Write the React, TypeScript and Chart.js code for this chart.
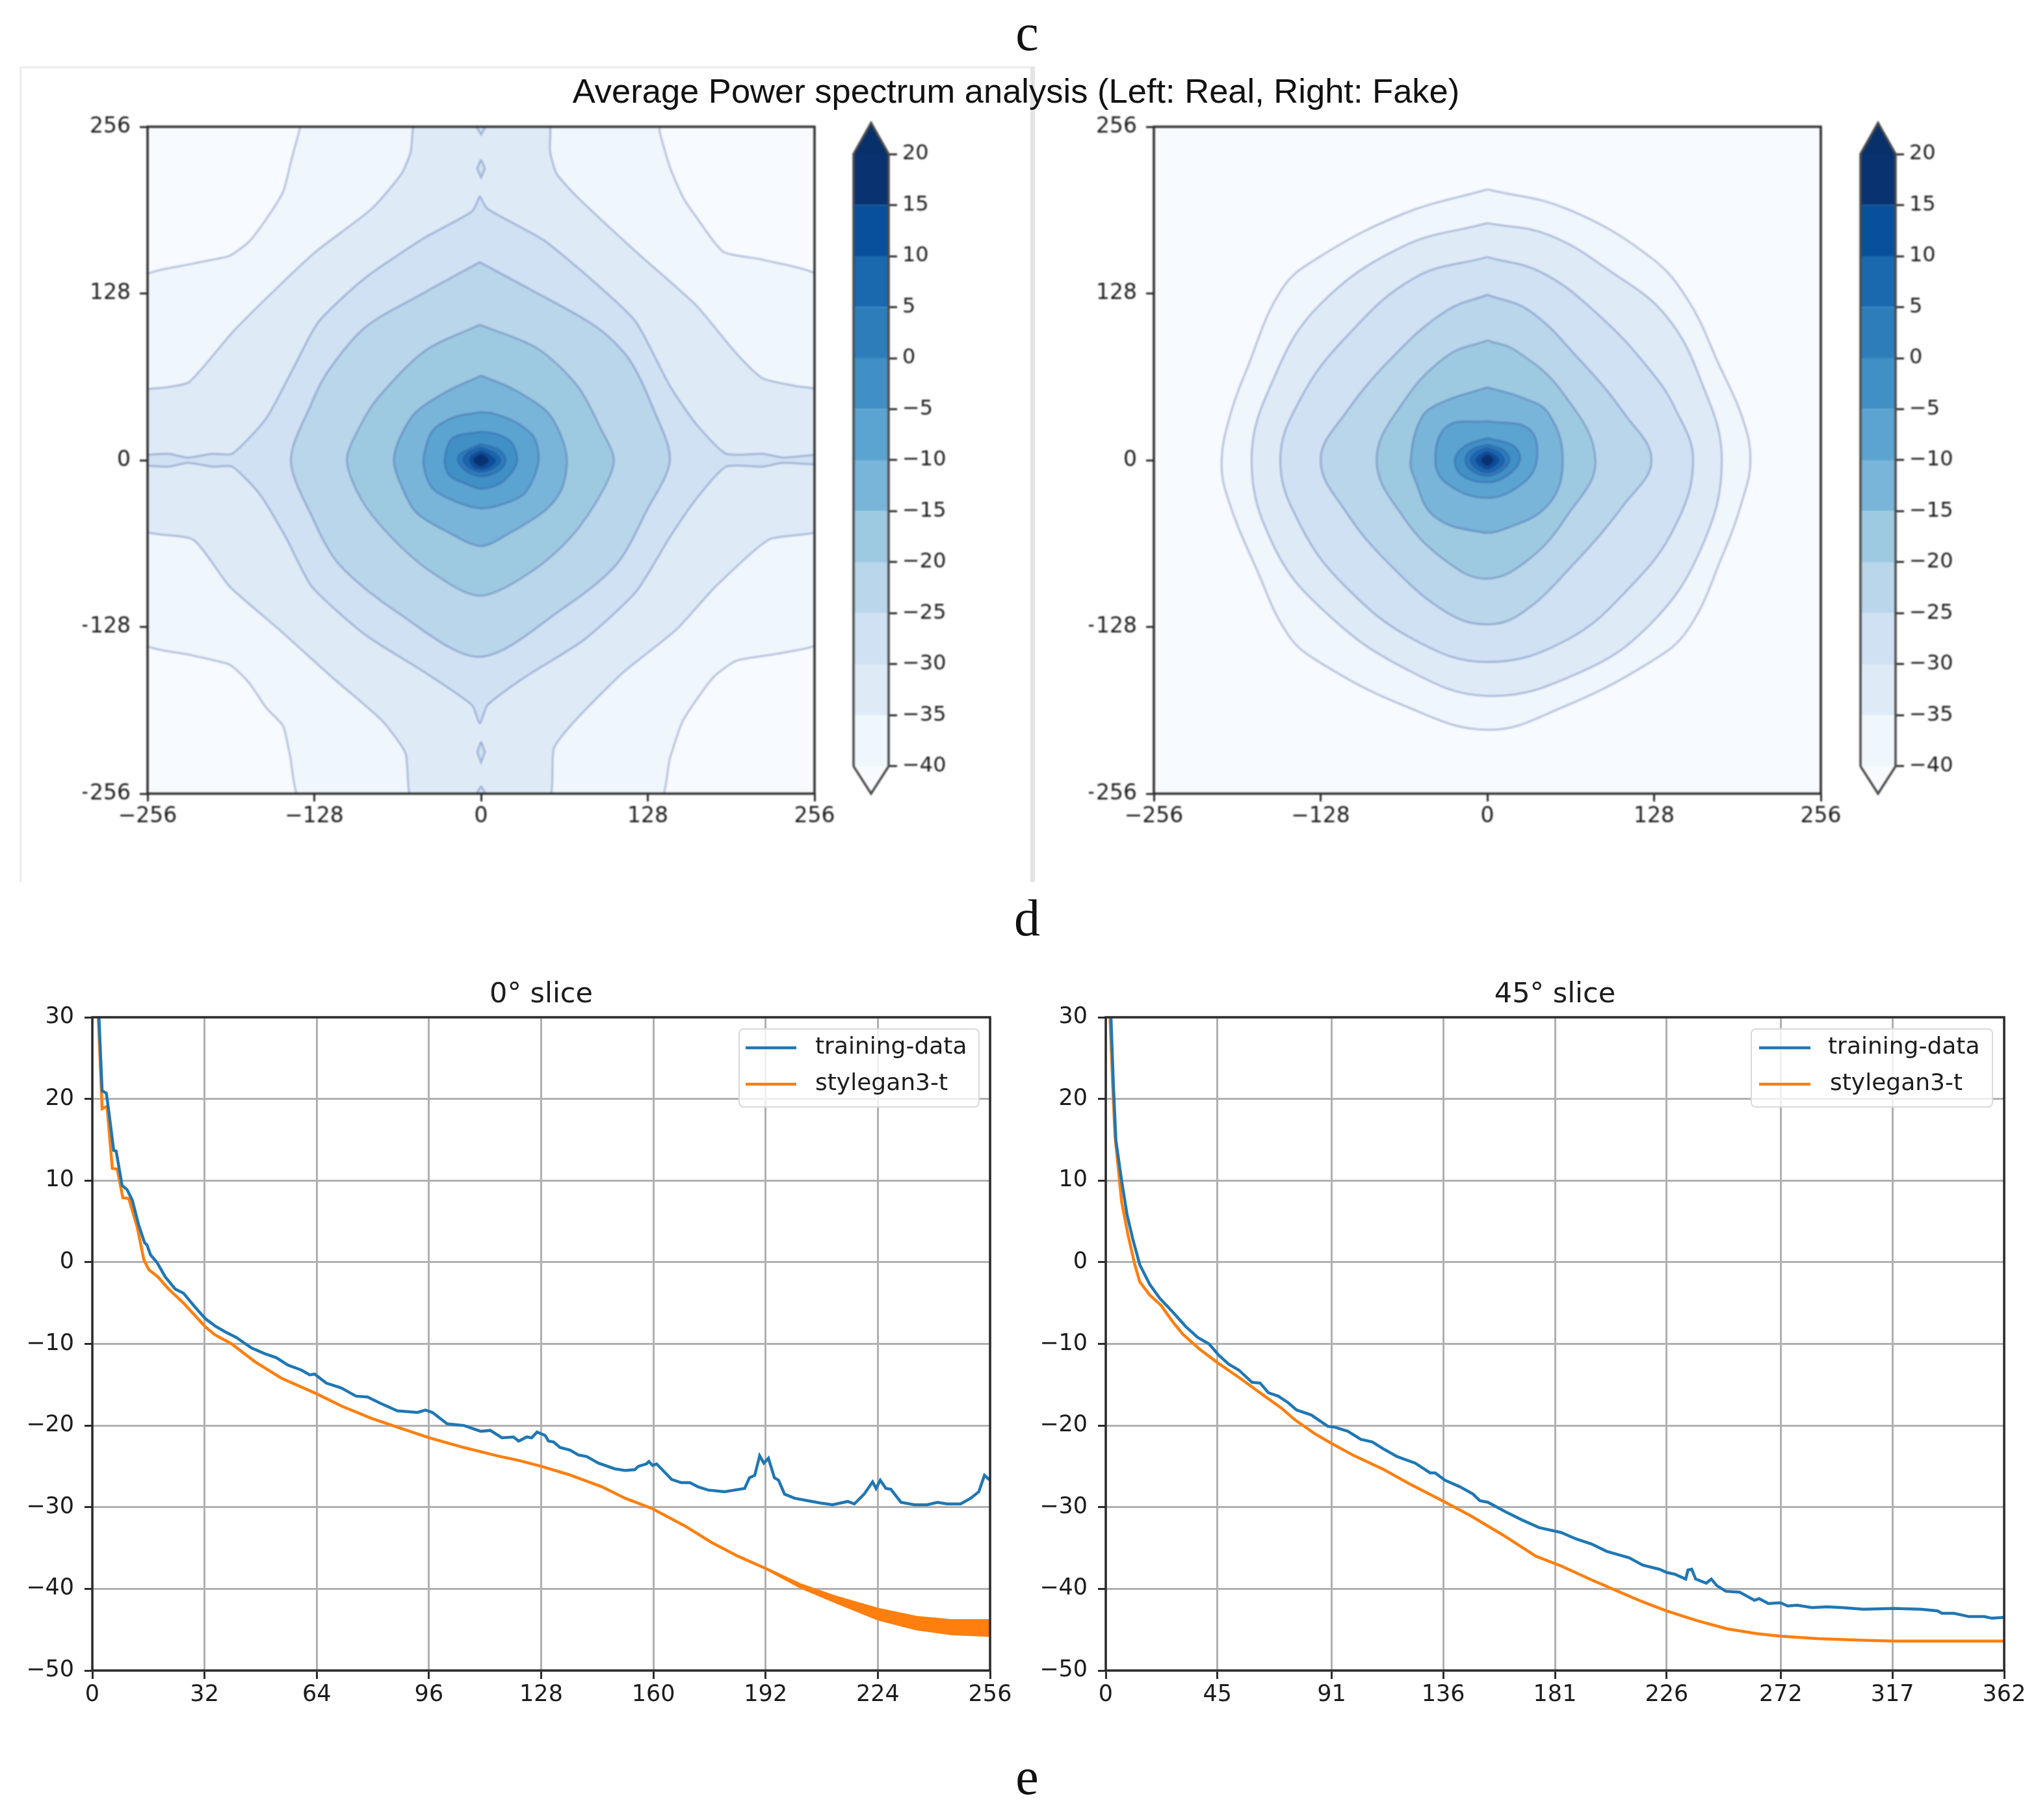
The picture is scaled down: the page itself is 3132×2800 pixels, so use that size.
import React, { useEffect, useRef } from "react";
import { Chart, registerables } from "chart.js";

Chart.register(...registerables);

type P = number[];

// ---------- contour outlines of the real average spectrum, outer level first ----------
const realM40: P[] = [
  [-137, 262], [137, 262], [137, 253], [145, 225], [155, 202], [165, 187], [186, 160], [216, 154], [262, 138],
  [262, -138], [231, -148], [196, -154], [178, -167], [155, -200], [145, -229], [136, -262],
  [-137, -262], [-147, -225], [-152, -204], [-165, -190], [-178, -171], [-193, -157], [-221, -150], [-262, -138],
  [-262, 138], [-221, 151], [-193, 157], [-178, 168], [-165, 185], [-152, 206], [-145, 233], [-137, 262],
];
const realM35: P[] = [
  [-52, 262], [51, 262], [53, 237], [58, 220], [74, 202], [119, 160], [165, 119], [196, 82], [216, 63], [241, 57], [262, 52],
  [262, -52], [221, -61], [180, -97], [150, -130], [109, -163], [74, -198], [56, -221], [51, -262],
  [-52, -262], [-58, -225], [-76, -200], [-114, -167], [-155, -130], [-193, -97], [-221, -61], [-262, -52],
  [-262, 52], [-241, 56], [-224, 60], [-191, 98], [-158, 131], [-127, 160], [-84, 193], [-61, 220], [-54, 237], [-52, 262],
];
const realM30: P[] = [
  [-1, 203], [-7, 191], [-43, 171], [-89, 140], [-125, 106], [-145, 69], [-165, 32], [-191, 5], [-206, 5], [-225, 2], [-240, 5],
  [-262, 3], [-262, -3], [-240, -5], [-225, -2], [-206, -5], [-191, -5], [-170, -26], [-150, -59], [-130, -97], [-89, -134], [-43, -163],
  [-7, -188], [-1, -202], [5, -188], [33, -167], [79, -138], [119, -101], [145, -59], [165, -30], [188, -5], [216, -5], [232, -2],
  [262, -3], [262, 4], [232, 2], [216, 5], [188, 5], [165, 28], [145, 57], [119, 106], [89, 135], [48, 169], [5, 193], [-1, 203],
];
const realDashUpper: P[] = [[0, 231], [3, 224], [0, 217], [-3, 224], [0, 231]];
const realDashTop: P[] = [[0, 261], [3, 255], [0, 250], [-3, 255], [0, 261]];
const realDashLower: P[] = [[0, -216], [3, -224], [0, -232], [-3, -224], [0, -216]];
const realDashBottom: P[] = [[0, -250], [3, -255], [0, -261], [-3, -255], [0, -250]];
const realM25: P[] = [
  [-1, 152], [-43, 129], [-89, 102], [-117, 69], [-130, 44], [-146, 0], [-130, -43], [-109, -80], [-64, -117], [-1, -151],
  [64, -113], [104, -80], [127, -39], [145, 0], [132, 40], [114, 77], [89, 102], [38, 131], [-1, 152],
];
const realM20: P[] = [
  [-1, 104], [-43, 84], [-79, 48], [-94, 24], [-103, 0], [-92, -30], [-69, -59], [-38, -86], [-1, -104],
  [38, -86], [69, -59], [92, -26], [102, 0], [92, 24], [74, 57], [43, 86], [-1, 104],
];
const realM15: P[] = [
  [0, 65], [-26, 53], [-50, 37], [-62, 18], [-67, 0], [-62, -18], [-50, -40], [-26, -55], [0, -66],
  [22, -56], [50, -38], [62, -22], [66, 0], [61, 20], [50, 38], [24, 55], [0, 65],
];
const realM10: P[] = [
  [0, 37], [-21, 33], [-37, 23], [-43, 8], [-44, -5], [-37, -22], [-19, -32], [0, -37],
  [19, -33], [34, -25], [44, -2], [41, 17], [27, 29], [9, 36], [0, 37],
];
const realM5: P[] = [
  [0, 22], [-22, 17], [-28, 0], [-24, -12], [-12, -18], [0, -22], [16, -17], [27.5, -2], [24, 13], [12.5, 20], [0, 22],
];
const real0: P[] = [[0, 12.5], [-16, 5], [-18, 0], [-12, -8], [0, -12.5], [14, -8], [19, 0], [14, 8], [0, 12.5]];
const real5: P[] = [[0, 10], [-10, 6], [-14, 0], [-9, -6], [0, -9], [10, -6], [15, 0], [10, 6], [0, 10]];
const real10: P[] = [[0, 7.5], [-7, 4], [-9, 0], [-6, -5], [0, -7], [7, -5], [11, 0], [7, 4], [0, 7.5]];
const real15: P[] = [[0, 5], [-4, 3], [-6, 0], [-4, -3], [0, -5], [4, -3], [6, 0], [4, 3], [0, 5]];

// ---------- contour outlines of the fake average spectrum, outer level first ----------
const fakeM40: P[] = [
  [0, 208], [61, 193], [125, 156], [154, 123], [178, 73], [196, 32], [202, 0], [196, -30], [181, -72], [154, -130], [125, -155],
  [57, -190], [0, -207], [-65, -188], [-129, -155], [-153, -134], [-177, -84], [-199, -30], [-204, 0], [-197, 36], [-185, 69],
  [-158, 131], [-129, 156], [-65, 189], [0, 208],
];
const fakeM35: P[] = [
  [0, 182], [47, 173], [96, 144], [137, 111], [164, 61], [180, 0], [164, -68], [125, -126], [71, -163], [0, -181],
  [-65, -159], [-124, -117], [-163, -68], [-181, 0], [-163, 65], [-129, 119], [-65, 164], [0, 182],
];
const fakeM30: P[] = [
  [0, 156], [42, 144], [86, 111], [125, 69], [144, 40], [158, 0], [144, -51], [110, -97], [61, -138], [0, -155],
  [-56, -138], [-109, -97], [-143, -51], [-159, 0], [-143, 48], [-109, 94], [-56, 140], [0, 156],
];
const fakeM25: P[] = [
  [0, 127], [32, 115], [71, 77], [105, 36], [126, 0], [105, -34], [66, -80], [27, -117], [0, -126], [-31, -117],
  [-75, -80], [-109, -39], [-128, 0], [-109, 36], [-70, 82], [-31, 115], [0, 127],
];
const fakeM20: P[] = [
  [0, 92], [22, 84], [57, 53], [83, 0], [61, -43], [32, -76], [0, -91], [-31, -78], [-65, -43], [-85, 0], [-65, 44], [-31, 80], [0, 92],
];
const fakeM15: P[] = [
  [0, 56], [27, 48], [47, 36], [58, 0], [47, -34], [13, -53], [-7, -55], [-41, -43], [-56, -14], [-59, 0], [-51, 32], [-36, 44], [0, 56],
];
const fakeM10: P[] = [[0, 30], [32, 24], [38, 0], [27, -18], [0, -29], [-31, -18], [-40, 0], [-31, 26], [0, 30]];
const fakeM5: P[] = [[0, 17], [20, 11], [25, 0], [15, -12], [0, -17], [-19, -12], [-25, 0], [-17, 11], [0, 17]];
const fake0: P[] = [[0, 12], [12, 8], [17, 0], [11, -8], [0, -12], [-12, -8], [-17, 0], [-12, 8], [0, 12]];
const fake5: P[] = [[0, 9.5], [9, 6], [13, 0], [9, -6], [0, -9.5], [-9, -6], [-13, 0], [-9, 6], [0, 9.5]];
const fake10: P[] = [[0, 7], [6, 4], [9, 0], [6, -4], [0, -7], [-6, -4], [-9, 0], [-6, 4], [0, 7]];
const fake15: P[] = [[0, 4.5], [3, 3], [5, 0], [3, -3], [0, -4.5], [-3, -3], [-5, 0], [-3, 3], [0, 4.5]];

// ---------- colour bar ----------
const colorbarLevels = [-40, -35, -30, -25, -20, -15, -10, -5, 0, 5, 10, 15, 20];
const colorbarTopArrow: P[] = [[-1, 20], [0, 23.06], [1, 20], [-1, 20]];
const colorbarBottomArrow: P[] = [[-1, -40], [0, -42.68], [1, -40], [-1, -40]];
const colorbarOutline: P[] = [[-1, -40], [0, -42.68], [1, -40], [1, 20], [0, 23.06], [-1, 20], [-1, -40]];

// ---------- slices ----------
const slice0Real: P[] = [
  [1.9, 30], [2.8, 21], [4, 20.7], [4.7, 18.5], [6.1, 13.7], [6.8, 13.6], [8.5, 9.4], [9.9, 8.9], [11.4, 7.6], [13.2, 4.6],
  [14.9, 2.4], [15.6, 2.1], [16.6, 0.9], [18.4, 0], [20.8, -1.8], [23.7, -3.3], [26, -3.8], [29.3, -5.5], [32.2, -6.9], [35, -7.8],
  [37.8, -8.5], [41, -9.2], [45.4, -10.5], [49.2, -11.2], [52.5, -11.7], [55.8, -12.6], [59.6, -13.2], [62, -13.8], [63.4, -13.7],
  [66.7, -14.8], [71, -15.4], [75.2, -16.4], [78.5, -16.5], [82.3, -17.3], [87, -18.2], [92.7, -18.4], [95, -18.1], [97, -18.4],
  [101.2, -19.8], [106, -20], [110.7, -20.7], [113.5, -20.6], [116.8, -21.5], [120.1, -21.4], [121.6, -21.9], [123.9, -21.4],
  [125.3, -21.5], [126.8, -20.8], [129.1, -21.2], [130.1, -21.9], [131.5, -22], [133.4, -22.7], [136.2, -23], [138.6, -23.6],
  [141, -23.8], [144.3, -24.6], [149, -25.3], [151.9, -25.5], [154.7, -25.4], [155.7, -25], [158, -24.7], [158.7, -24.4], [159.8, -24.9],
  [160.9, -24.7], [162.3, -25.3], [165.2, -26.6], [168, -27], [170.4, -27], [172.7, -27.5], [175.6, -27.9], [180.3, -28.1], [184.6, -27.8],
  [186, -27.7], [187.4, -26.4], [188.9, -26.1], [190.3, -23.7], [191.5, -24.6], [192.8, -24], [194.5, -26.4], [195.7, -26.7], [197.4, -28.4],
  [200.2, -28.9], [204, -29.2], [207.8, -29.5], [211.1, -29.7], [215.4, -29.3], [217.3, -29.6], [220.1, -28.4], [222.5, -26.9], [223.5, -27.7],
  [224.7, -26.7], [226.3, -27.7], [227.7, -27.8], [230.6, -29.4], [234.4, -29.7], [238.1, -29.7], [241, -29.4], [243.8, -29.6], [247.6, -29.6],
  [250.5, -28.9], [252.8, -28.1], [254.4, -26.1], [256, -26.7],
];
const slice0Fake: P[] = [
  [1.7, 30], [2.8, 18.8], [4.2, 19.1], [5.7, 11.5], [7.1, 11.4], [8.7, 7.9], [10.4, 7.8], [12.8, 4.3], [14.7, 0.3], [16.1, -0.9], [18.7, -1.8],
  [21.8, -3.3], [26, -5], [32.2, -7.9], [35, -8.9], [39.7, -10], [46.4, -12.2], [53.9, -14.2], [63.9, -16.1], [71, -17.6], [79.5, -19.1],
  [87, -20.2], [96, -21.5], [106, -22.7], [115.4, -23.7], [121.8, -24.3], [128, -25], [135.8, -26], [145.3, -27.5], [151.9, -28.9],
  [159.8, -30.2], [169, -32.3], [176.5, -34.3], [184.1, -36], [192, -37.5],
];
const slice0FakeBandX = [192, 202, 212, 224, 235, 245, 256];
const slice0FakeBandUpper = [-37.4, -39.4, -40.9, -42.4, -43.4, -43.8, -43.8];
const slice0FakeBandLower = [-37.6, -39.9, -41.7, -43.8, -45, -45.6, -45.8];
const slice45Real: P[] = [
  [2.1, 30], [3.1, 21.6], [4.1, 14.9], [6.4, 10], [8.6, 5.8], [11, 2.7], [13.7, -0.3], [17.7, -2.7], [21.7, -4.4], [27, -6.1], [32.3, -7.9],
  [37, -9.2], [41.6, -10], [45.6, -11.4], [49.6, -12.5], [53.6, -13.2], [58.9, -14.7], [62.2, -14.8], [65.6, -16], [69.5, -16.4], [73.5, -17.2],
  [76.9, -18.1], [82.8, -18.7], [89.5, -20.1], [92.2, -20.2], [97.5, -20.7], [102.8, -21.7], [107.4, -22], [112.1, -22.9], [117.4, -23.8],
  [124.7, -24.6], [130.7, -25.8], [132.7, -25.8], [136.7, -26.7], [142.7, -27.5], [148, -28.4], [150.7, -29.2], [154, -29.4], [161.3, -30.6],
  [168, -31.6], [174.6, -32.5], [183.5, -33.1], [189.6, -33.9], [195.7, -34.5], [201.8, -35.4], [210.9, -36.2], [216.4, -37.1], [223.1, -37.6],
  [226.1, -38], [229.2, -38.2], [233.7, -38.8], [234.6, -37.7], [236.1, -37.6], [237.7, -38.8], [242, -39.3], [244, -38.8], [246.2, -39.6],
  [249.9, -40.3], [255.4, -40.4], [261.4, -41.4], [263.3, -41.2], [267, -41.8], [271.8, -41.7], [274.8, -42.1], [278.5, -42], [284.6, -42.3],
  [290.7, -42.2], [296.8, -42.3], [305.3, -42.5], [317.5, -42.4], [328.4, -42.5], [335.1, -42.7], [337, -43], [341.8, -43], [347.9, -43.4],
  [354, -43.4], [357.1, -43.6], [362, -43.5],
];
const slice45Fake: P[] = [
  [1.7, 30], [2.8, 21.6], [3.7, 15.5], [6.4, 7.4], [9, 3.3], [11.7, -0.3], [13.7, -2.4], [17.7, -4], [22.3, -5.3], [27, -7.3], [31, -8.8],
  [37.6, -10.6], [45, -12.3], [53.6, -14.1], [62.2, -16], [70.9, -17.9], [76.2, -19.3], [84.2, -21], [91, -22.2], [100.1, -23.7], [112.1, -25.4],
  [122.7, -27.2], [135.6, -29.2], [146.7, -31], [160, -33.4], [173.3, -36], [183.5, -37.2], [195.7, -38.9], [207.9, -40.5], [216.4, -41.6], [226, -42.7],
  [238.3, -43.9], [250.5, -44.9], [262.7, -45.5], [272, -45.8], [287, -46.1], [305.3, -46.3], [317.5, -46.4], [362, -46.4],
];

const contourTicks = [-256, -128, 0, 128, 256];
const slice0XTicks = [0, 32, 64, 96, 128, 160, 192, 224, 256];
const slice45XTicks = [0, 45, 91, 136, 181, 226, 272, 317, 362];
const sliceYTicks = [-50, -40, -30, -20, -10, 0, 10, 20, 30];
const seriesNames = ["training-data", "stylegan3-t"];

// ---------- styling ----------
const BLUES = ["#eff6fc", "#deebf7", "#cfe1f2", "#b9d6ea", "#9ecae1", "#79b4d9", "#5ba3d0", "#4090c5", "#2d7dbb", "#1a68ae", "#08509b", "#083370"];
const UNDER = "#f7fbff";
const OVER = "#08306b";
const INK = "#1c1c1c";
const FONT = "'DejaVu Sans'";

type Box = { left: number; top: number; right: number; bottom: number };
const M = { l: 130, r: 70, t: 40, b: 70 };
const AXIS_W = 100;
const AXIS_H = 60;
const EXTRA_R = 60;

const pts = (a: P[]) => a.map(([x, y]) => ({ x, y }));
const minusTick = (v: number | string) => String(v).replace("-", "\u2212");

const framePlugin = {
  id: "frame",
  afterDatasetsDraw(chart: any, _a: any, o: any) {
    if (!o.show) return;
    const { ctx, chartArea: c } = chart;
    ctx.save();
    ctx.strokeStyle = "#2b2b2b";
    ctx.lineWidth = o.width || 3.5;
    ctx.strokeRect(c.left, c.top, c.right - c.left, c.bottom - c.top);
    ctx.restore();
  },
  beforeDatasetsDraw(chart: any, _a: any, o: any) {
    if (!o.bg) return;
    const { ctx, chartArea: c } = chart;
    ctx.save();
    ctx.fillStyle = o.bg;
    ctx.fillRect(c.left, c.top, c.right - c.left, c.bottom - c.top);
    ctx.restore();
  },
};

const legendPlugin = {
  id: "insetLegend",
  afterDraw(chart: any, _a: any, o: any) {
    if (!o.box) return;
    const { ctx, canvas } = chart;
    const cx = parseFloat(canvas.style.left);
    const cy = parseFloat(canvas.style.top);
    const b = o.box;
    ctx.save();
    ctx.beginPath();
    ctx.roundRect(b.left - cx, b.top - cy, b.right - b.left, b.bottom - b.top, 7);
    ctx.fillStyle = "rgba(255,255,255,0.8)";
    ctx.fill();
    ctx.strokeStyle = "#d9d9d9";
    ctx.lineWidth = 2;
    ctx.stroke();
    ctx.font = `${o.size}px ${FONT}`;
    ctx.textBaseline = "middle";
    o.rows.forEach((r: any) => {
      ctx.strokeStyle = r.color;
      ctx.lineWidth = 4.5;
      ctx.beginPath();
      ctx.moveTo(o.x0 - cx, r.y - cy);
      ctx.lineTo(o.x1 - cx, r.y - cy);
      ctx.stroke();
      ctx.fillStyle = INK;
      ctx.fillText(r.label, r.tx - cx, r.y - cy);
    });
    ctx.restore();
  },
};

function axisGrid(grid: boolean, tickLen: number) {
  return { display: true, drawOnChartArea: grid, color: "#b0b0b0", lineWidth: 3, tickColor: "#2b2b2b", tickWidth: 3, tickLength: tickLen, drawTicks: true };
}
function fixedX(ticks: number[], min: number, max: number, size: number, tickLen: number, grid: boolean, pad: number) {
  return {
    type: "linear",
    min,
    max,
    afterBuildTicks: (s: any) => { s.ticks = ticks.map((value) => ({ value })); },
    afterFit: (s: any) => { s.height = AXIS_H; s.paddingLeft = 0; s.paddingRight = 0; s.paddingTop = 0; s.paddingBottom = 0; },
    border: { display: false },
    grid: axisGrid(grid, tickLen),
    ticks: { autoSkip: false, maxRotation: 0, minRotation: 0, padding: pad, color: INK, font: { family: FONT, size }, callback: minusTick },
  };
}
function fixedY(ticks: number[], min: number, max: number, size: number, tickLen: number, grid: boolean, pad: number, position = "left") {
  return {
    type: "linear",
    position,
    min,
    max,
    afterBuildTicks: (s: any) => { s.ticks = ticks.map((value) => ({ value })); },
    afterFit: (s: any) => { s.width = AXIS_W; s.paddingLeft = 0; s.paddingRight = 0; s.paddingTop = 0; s.paddingBottom = 0; },
    border: { display: false },
    grid: axisGrid(grid, tickLen),
    ticks: { autoSkip: false, padding: pad, color: INK, font: { family: FONT, size }, callback: minusTick },
  };
}

function Panel({ box, build, titleH = 0, yRight = false, blur = 1 }: { box: Box; build: () => any; titleH?: number; yRight?: boolean; blur?: number }) {
  const ref = useRef<HTMLCanvasElement>(null);
  const width = box.right - box.left + M.l + M.r + (yRight ? EXTRA_R : 0);
  const height = box.bottom - box.top + M.t + M.b + titleH;
  const left = box.left - M.l;
  const top = box.top - M.t - titleH;
  useEffect(() => {
    const cfg = build();
    cfg.options = {
      animation: false,
      responsive: false,
      devicePixelRatio: 1,
      events: [],
      ...cfg.options,
      layout: {
        padding: yRight
          ? { left: M.l, right: M.r + EXTRA_R - AXIS_W, top: M.t, bottom: M.b }
          : { left: M.l - AXIS_W, right: M.r, top: M.t, bottom: M.b - AXIS_H },
      },
    };
    const chart = new Chart(ref.current as HTMLCanvasElement, { ...cfg, plugins: [framePlugin, legendPlugin] });
    return () => chart.destroy();
  }, []);
  return (
    <canvas
      ref={ref}
      width={width}
      height={height}
      style={{ position: "absolute", left, top, width, height, display: "block", filter: `blur(${blur}px)` }}
    />
  );
}

const contourDataset = (a: P[], color: string, tension: number) => ({
  data: pts(a),
  showLine: true,
  fill: "shape",
  backgroundColor: color,
  borderColor: "rgba(45,65,150,0.3)",
  borderWidth: 3,
  pointRadius: 0,
  tension,
  capBezierPoints: false,
  clip: 0,
});

function contourConfig(levels: P[][], tension: number, extra: any[] = []) {
  const datasets = levels.map((a, i) => contourDataset(a, BLUES[i], i < 3 ? Math.min(tension, 0.2) : tension)).reverse();
  return {
    type: "scatter",
    data: { datasets: [...datasets.slice(0, -3), ...extra, ...datasets.slice(-3)] },
    options: {
      plugins: { legend: { display: false }, tooltip: { enabled: false }, frame: { show: true, bg: UNDER } },
      scales: {
        x: fixedX(contourTicks, -256, 256, 33, 12, false, 4),
        y: fixedY(contourTicks, -256, 256, 33, 12, false, 14),
      },
    },
  };
}

function fakeContourConfig(levels: P[][], tension: number) {
  const cfg = contourConfig(levels, tension);
  cfg.data.datasets = levels.map((a, i) => contourDataset(a, BLUES[i], tension)).reverse();
  return cfg;
}

function colorbarConfig() {
  const bands = colorbarLevels.slice(0, -1).map((lo, i) => ({
    data: pts([[-1, lo], [1, lo], [1, colorbarLevels[i + 1]], [-1, colorbarLevels[i + 1]], [-1, lo]]),
    showLine: true,
    fill: "shape",
    backgroundColor: BLUES[i],
    borderWidth: 0,
    pointRadius: 0,
  }));
  const arrow = (a: P[], color: string) => ({ data: pts(a), showLine: true, fill: "shape", backgroundColor: color, borderWidth: 0, pointRadius: 0 });
  const outline = { data: pts(colorbarOutline), showLine: true, fill: false, borderColor: "#4a4a4a", borderWidth: 3.5, pointRadius: 0, clip: false };
  return {
    type: "scatter",
    data: { datasets: [outline, ...bands, arrow(colorbarTopArrow, OVER), arrow(colorbarBottomArrow, UNDER)] },
    options: {
      plugins: { legend: { display: false }, tooltip: { enabled: false } },
      scales: {
        x: { type: "linear", min: -1, max: 1, display: false },
        y: fixedY(colorbarLevels, -42.68, 23.06, 32, 13, false, 8, "right"),
      },
    },
  };
}

function sliceConfig(title: string, real: P[], fake: P[], xTicks: number[], xMax: number, legend: any, band?: P[]) {
  const datasets: any[] = [
    { label: seriesNames[0], data: pts(real), showLine: true, borderColor: "#1f77b4", borderWidth: 4.5, pointRadius: 0 },
    { label: seriesNames[1], data: pts(fake), showLine: true, borderColor: "#ff7f0e", borderWidth: 4.5, pointRadius: 0 },
  ];
  if (band) datasets.push({ label: seriesNames[1], data: pts(band), showLine: true, fill: "shape", backgroundColor: "#ff7f0e", borderColor: "#ff7f0e", borderWidth: 2, pointRadius: 0 });
  return {
    type: "scatter",
    data: { datasets },
    options: {
      plugins: {
        legend: { display: false },
        tooltip: { enabled: false },
        frame: { show: true },
        insetLegend: legend,
        title: { display: true, text: title, fullSize: false, color: INK, font: { family: FONT, size: 43, weight: "normal", lineHeight: 1 }, padding: { top: 0, bottom: 13 } },
      },
      scales: {
        x: fixedX(xTicks, 0, xMax, 35, 13, true, 4),
        y: fixedY(sliceYTicks, -50, 30, 35, 12, true, 16),
      },
    },
  };
}

const band0: P[] = [
  ...slice0FakeBandX.map((x, i) => [x, slice0FakeBandUpper[i]]),
  ...slice0FakeBandX.map((x, i) => [x, slice0FakeBandLower[i]]).reverse(),
  [slice0FakeBandX[0], slice0FakeBandUpper[0]],
];

const BOX_REAL: Box = { left: 227, top: 195, right: 1253, bottom: 1221 };
const BOX_FAKE: Box = { left: 1775, top: 195, right: 2801, bottom: 1221 };
const CB_REAL: Box = { left: 1313, top: 189, right: 1367, bottom: 1221 };
const CB_FAKE: Box = { left: 2862, top: 189, right: 2916, bottom: 1221 };
const BOX_S0: Box = { left: 142, top: 1565, right: 1523, bottom: 2570 };
const BOX_S45: Box = { left: 1701, top: 1565, right: 3083, bottom: 2570 };

const Label = ({ text, x, y, size, font, blur = 0 }: { text: string; x: number; y: number; size: number; font: string; blur?: number }) => (
  <div style={{ position: "absolute", left: x - 1500, top: y - size / 2, width: 3000, textAlign: "center", fontFamily: font, fontSize: size, lineHeight: `${size}px`, color: "#111", whiteSpace: "nowrap", filter: blur ? `blur(${blur}px)` : undefined }}>
    {text}
  </div>
);

export default function App() {
  return (
    <div style={{ position: "absolute", left: 0, top: 0, width: 3132, height: 2800, background: "#fff", overflow: "hidden" }}>
      <div style={{ position: "absolute", left: 30, top: 102, width: 1552, height: 1252, borderLeft: "3px solid #ececec", borderTop: "3px solid #ececec", borderRight: "7px solid #e4e4e4" }} />
      <Panel box={BOX_REAL} build={() => contourConfig(
        [realM40, realM35, realM30, realM25, realM20, realM15, realM10, realM5, real0, real5, real10, real15], 0.3,
        [realDashUpper, realDashTop, realDashLower, realDashBottom].map((a) => contourDataset(a, BLUES[2], 0)),
      )} />
      <Panel box={CB_REAL} yRight build={colorbarConfig} />
      <Panel box={BOX_FAKE} build={() => fakeContourConfig(
        [fakeM40, fakeM35, fakeM30, fakeM25, fakeM20, fakeM15, fakeM10, fakeM5, fake0, fake5, fake10, fake15], 0.4,
      )} />
      <Panel box={CB_FAKE} yRight build={colorbarConfig} />
      <Panel box={BOX_S0} titleH={56} blur={0.7} build={() => sliceConfig("0\u00b0 slice", slice0Real, slice0Fake, slice0XTicks, 256, {
        box: { left: 1137, top: 1583, right: 1506, bottom: 1703 }, size: 36, x0: 1147, x1: 1225,
        rows: [
          { label: seriesNames[0], color: "#1f77b4", y: 1612, tx: 1254 },
          { label: seriesNames[1], color: "#ff7f0e", y: 1668, tx: 1254 },
        ],
      }, band0)} />
      <Panel box={BOX_S45} titleH={56} blur={0.7} build={() => sliceConfig("45\u00b0 slice", slice45Real, slice45Fake, slice45XTicks, 362, {
        box: { left: 2694, top: 1583, right: 3065, bottom: 1703 }, size: 36, x0: 2706, x1: 2785,
        rows: [
          { label: seriesNames[0], color: "#1f77b4", y: 1612, tx: 2812 },
          { label: seriesNames[1], color: "#ff7f0e", y: 1668, tx: 2815 },
        ],
      })} />
      <Label text="c" x={1580} y={50} size={80} font="'Liberation Serif'" />
      <Label text="Average Power spectrum analysis (Left: Real, Right: Fake)" x={1563} y={140} size={52.5} font="'Liberation Sans'" blur={0.6} />
      <Label text="d" x={1580} y={1412} size={80} font="'Liberation Serif'" />
      <Label text="e" x={1580} y={2733} size={80} font="'Liberation Serif'" />
    </div>
  );
}
